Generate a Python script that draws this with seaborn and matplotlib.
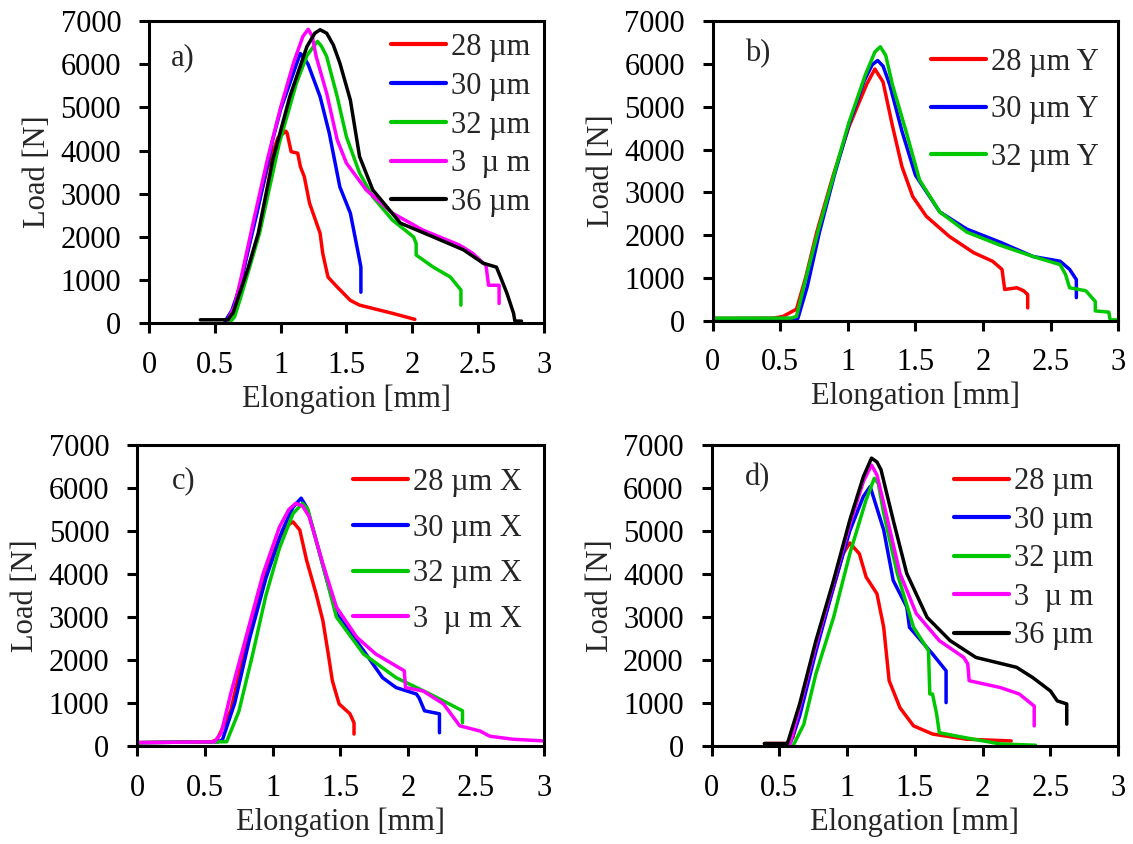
import matplotlib
matplotlib.use("Agg")
import matplotlib.pyplot as plt
import seaborn as sns
import pandas as pd

# ---------------- data ----------------
a_labels = ["28 \u00b5m", "30 \u00b5m", "32 \u00b5m", "3  \u00b5 m", "36 \u00b5m"]
a28_x = [0.58, 0.64, 0.70, 0.80, 0.90, 0.98, 1.04, 1.05, 1.08, 1.13, 1.15, 1.18, 1.22, 1.30, 1.32, 1.36, 1.43, 1.53, 1.60, 1.85, 2.02]
a28_y = [50, 300, 1000, 2350, 3600, 4300, 4450, 4400, 3975, 3940, 3630, 3395, 2780, 2085, 1620, 1070, 840, 530, 420, 230, 90]
a30_x = [0.58, 0.63, 0.69, 0.75, 0.82, 0.88, 0.94, 1.00, 1.07, 1.12, 1.15, 1.18, 1.21, 1.30, 1.37, 1.45, 1.53, 1.59, 1.61, 1.61]
a30_y = [50, 300, 840, 1650, 2550, 3400, 4250, 4950, 5560, 6000, 6250, 6150, 5990, 5250, 4400, 3160, 2550, 1620, 1300, 720]
a32_x = [0.61, 0.65, 0.69, 0.76, 0.84, 0.99, 1.12, 1.20, 1.25, 1.28, 1.31, 1.35, 1.43, 1.50, 1.60, 1.70, 1.85, 2.01, 2.03, 2.03, 2.16, 2.29, 2.37, 2.37]
a32_y = [0, 150, 530, 1250, 2085, 4170, 5560, 6200, 6410, 6530, 6420, 6180, 5250, 4320, 3480, 2930, 2390, 2000, 1850, 1580, 1300, 1070, 770, 420]
a34_x = [0.60, 0.65, 0.70, 0.80, 0.90, 1.00, 1.10, 1.17, 1.21, 1.24, 1.27, 1.35, 1.43, 1.50, 1.65, 1.85, 2.08, 2.36, 2.46, 2.54, 2.56, 2.58, 2.66, 2.66]
a34_y = [80, 400, 1050, 2450, 3800, 5000, 6050, 6650, 6810, 6650, 6180, 5330, 4250, 3710, 3090, 2550, 2160, 1810, 1620, 1390, 1350, 880, 880, 460]
a36_x = [0.39, 0.60, 0.64, 0.67, 0.75, 0.83, 0.94, 1.07, 1.20, 1.26, 1.30, 1.35, 1.40, 1.45, 1.53, 1.60, 1.70, 1.91, 2.16, 2.39, 2.54, 2.64, 2.68, 2.72, 2.77, 2.78, 2.83]
a36_y = [80, 80, 250, 530, 1250, 2085, 3780, 5250, 6410, 6720, 6800, 6720, 6450, 6030, 5170, 3860, 3090, 2320, 2000, 1700, 1390, 1300, 1000, 690, 230, 50, 50]

b_labels = ["28 \u00b5m Y", "30 \u00b5m Y", "32 \u00b5m Y"]
b28_x = [0.0, 0.45, 0.52, 0.62, 0.69, 0.77, 0.89, 1.01, 1.14, 1.20, 1.26, 1.33, 1.40, 1.48, 1.58, 1.75, 1.93, 2.07, 2.14, 2.16, 2.25, 2.30, 2.33, 2.33]
b28_y = [50, 60, 100, 270, 1035, 2070, 3380, 4550, 5530, 5880, 5580, 4550, 3600, 2900, 2440, 1970, 1590, 1390, 1200, 730, 770, 700, 610, 300]
b30_x = [0.0, 0.60, 0.63, 0.70, 0.79, 0.90, 1.01, 1.12, 1.18, 1.22, 1.26, 1.31, 1.40, 1.50, 1.68, 1.88, 2.13, 2.37, 2.57, 2.64, 2.69, 2.69]
b30_y = [50, 50, 50, 800, 2070, 3400, 4600, 5600, 5980, 6080, 5950, 5510, 4430, 3400, 2540, 2140, 1830, 1500, 1390, 1200, 960, 540]
b32_x = [0.0, 0.58, 0.62, 0.69, 0.78, 0.90, 1.01, 1.13, 1.20, 1.24, 1.28, 1.33, 1.43, 1.53, 1.68, 1.88, 2.13, 2.37, 2.57, 2.61, 2.64, 2.76, 2.83, 2.83, 2.93, 2.94, 3.0]
b32_y = [60, 60, 100, 1000, 2100, 3450, 4650, 5750, 6280, 6400, 6200, 5510, 4430, 3290, 2540, 2070, 1760, 1500, 1310, 1080, 770, 700, 450, 230, 200, 20, 20]

c_labels = ["28 \u00b5m X", "30 \u00b5m X", "32 \u00b5m X", "3  \u00b5 m X"]
c28_x = [0.0, 0.55, 0.59, 0.69, 0.81, 0.93, 1.05, 1.12, 1.15, 1.20, 1.25, 1.32, 1.37, 1.41, 1.44, 1.49, 1.57, 1.60, 1.60]
c28_y = [80, 100, 150, 820, 2450, 3850, 4860, 5150, 5210, 5020, 4320, 3540, 2920, 2140, 1520, 980, 750, 540, 280]
c30_x = [0.0, 0.60, 0.63, 0.72, 0.83, 0.95, 1.07, 1.15, 1.21, 1.25, 1.30, 1.40, 1.47, 1.67, 1.81, 1.91, 2.06, 2.08, 2.12, 2.23, 2.23]
c30_y = [80, 100, 150, 1000, 2500, 3900, 5000, 5550, 5760, 5550, 5020, 3850, 3080, 2220, 1590, 1360, 1210, 1120, 820, 750, 310]
c32_x = [0.0, 0.62, 0.66, 0.75, 0.85, 0.95, 1.05, 1.15, 1.22, 1.26, 1.30, 1.40, 1.47, 1.67, 1.91, 2.16, 2.40, 2.40]
c32_y = [80, 100, 100, 800, 2100, 3500, 4600, 5400, 5640, 5500, 5020, 3850, 3000, 2140, 1590, 1210, 820, 540]
c34_x = [0.0, 0.57, 0.62, 0.69, 0.81, 0.93, 1.05, 1.12, 1.17, 1.22, 1.27, 1.37, 1.47, 1.62, 1.76, 1.97, 1.98, 2.11, 2.26, 2.38, 2.53, 2.60, 2.77, 3.0]
c34_y = [80, 100, 300, 1210, 2610, 4010, 5090, 5500, 5640, 5580, 5330, 4240, 3230, 2530, 2140, 1750, 1360, 1280, 980, 470, 350, 230, 160, 120]

d_labels = ["28 \u00b5m", "30 \u00b5m", "32 \u00b5m", "3  \u00b5 m", "36 \u00b5m"]
d28_x = [0.39, 0.55, 0.60, 0.65, 0.77, 0.90, 0.97, 1.02, 1.09, 1.14, 1.22, 1.27, 1.31, 1.39, 1.49, 1.63, 1.88, 2.21]
d28_y = [60, 60, 200, 750, 2290, 3690, 4470, 4720, 4470, 3930, 3540, 2760, 1520, 890, 470, 280, 160, 120]
d30_x = [0.58, 0.65, 0.77, 0.90, 1.02, 1.12, 1.17, 1.27, 1.34, 1.44, 1.46, 1.63, 1.73, 1.73]
d30_y = [60, 700, 2200, 3700, 5000, 5800, 6030, 5020, 3850, 3230, 2760, 2140, 1750, 1010]
d32_x = [0.60, 0.68, 0.77, 0.90, 1.02, 1.14, 1.20, 1.23, 1.27, 1.37, 1.49, 1.60, 1.61, 1.63, 1.66, 1.68, 1.88, 2.13, 2.39]
d32_y = [0, 500, 1680, 2990, 4470, 5720, 6220, 6100, 5410, 4010, 2760, 2220, 1210, 1210, 750, 310, 190, 50, 20]
d34_x = [0.58, 0.65, 0.77, 0.90, 1.02, 1.12, 1.18, 1.22, 1.27, 1.39, 1.51, 1.68, 1.86, 1.89, 1.90, 2.13, 2.27, 2.38, 2.38]
d34_y = [60, 900, 2350, 3800, 5150, 6150, 6530, 6300, 5640, 4010, 3080, 2450, 2060, 1910, 1520, 1360, 1210, 930, 470]
d36_x = [0.39, 0.56, 0.65, 0.77, 0.90, 1.02, 1.12, 1.18, 1.22, 1.25, 1.34, 1.44, 1.59, 1.76, 1.95, 2.25, 2.37, 2.50, 2.55, 2.62, 2.62]
d36_y = [60, 60, 980, 2450, 3850, 5250, 6260, 6690, 6600, 6420, 5250, 4010, 2990, 2450, 2060, 1830, 1590, 1280, 1050, 980, 510]

x_ticks = [0, 0.5, 1, 1.5, 2, 2.5, 3]
x_tick_labels = ["0", "0.5", "1", "1.5", "2", "2.5", "3"]
y_ticks = [0, 1000, 2000, 3000, 4000, 5000, 6000, 7000]

colors5 = ["#ff0000", "#0000ff", "#00c800", "#ff00ff", "#000000"]

# ---------------- style ----------------
sns.set_theme(style="ticks")
plt.rcParams["font.family"] = ["Liberation Serif", "DejaVu Serif"]

fig = plt.figure(figsize=(11.33, 8.44), dpi=100)
fig.patch.set_facecolor("white")

# tag, labels, series, axes rect, tag pos, legend anchor, labelspacing
panels = [
    ("a)", a_labels, [(a28_x, a28_y), (a30_x, a30_y), (a32_x, a32_y), (a34_x, a34_y), (a36_x, a36_y)],
     [0.1315, 0.617, 0.3485, 0.358], (0.055, 0.88), (0.980, 0.981), 0.32),
    ("b)", b_labels, [(b28_x, b28_y), (b30_x, b30_y), (b32_x, b32_y)],
     [0.629, 0.620, 0.358, 0.355], (0.079, 0.89), (0.966, 0.931), 0.60),
    ("c)", c_labels, [(c28_x, c28_y), (c30_x, c30_y), (c32_x, c32_y), (c34_x, c34_y)],
     [0.121, 0.116, 0.359, 0.357], (0.085, 0.88), (0.961, 0.944), 0.55),
    ("d)", d_labels, [(d28_x, d28_y), (d30_x, d30_y), (d32_x, d32_y), (d34_x, d34_y), (d36_x, d36_y)],
     [0.628, 0.116, 0.359, 0.357], (0.081, 0.89), (0.953, 0.945), 0.31),
]

FS = 22

for tag, labels, series, rect, tpos, lanchor, lspace in panels:
    ax = fig.add_axes(rect)
    frames = []
    for lab, (xs, ys) in zip(labels, series):
        frames.append(pd.DataFrame({"Elongation": xs, "Load": ys, "series": lab}))
    df = pd.concat(frames, ignore_index=True)
    sns.lineplot(data=df, x="Elongation", y="Load", hue="series", hue_order=labels,
                 palette=colors5[:len(labels)], sort=False, estimator=None,
                 units="series", linewidth=2.5, ax=ax)
    ax.set_xlim(0, 3)
    ax.set_ylim(0, 7000)
    ax.set_xticks(x_ticks)
    ax.set_xticklabels(x_tick_labels)
    ax.set_yticks(y_ticks)
    ax.tick_params(axis="both", direction="out", length=7, width=2.2, labelsize=FS,
                   colors="black", pad=13)
    for s in ax.spines.values():
        s.set_visible(True)
        s.set_color("black")
        s.set_linewidth(2.2)
    ax.set_xlabel("Elongation [mm]", fontsize=FS, labelpad=3)
    ax.set_ylabel("Load [N]", fontsize=FS, labelpad=6)
    ax.text(tpos[0], tpos[1], tag, transform=ax.transAxes, fontsize=FS, va="center", ha="left")
    leg = ax.legend(loc="upper right", bbox_to_anchor=lanchor, frameon=False, fontsize=FS,
                    handlelength=1.8, handletextpad=0.16, labelspacing=lspace,
                    borderaxespad=0.0, borderpad=0.2)
    for h in leg.get_lines():
        h.set_linewidth(3.0)

fig.savefig("out.png", dpi=100, facecolor="white")
